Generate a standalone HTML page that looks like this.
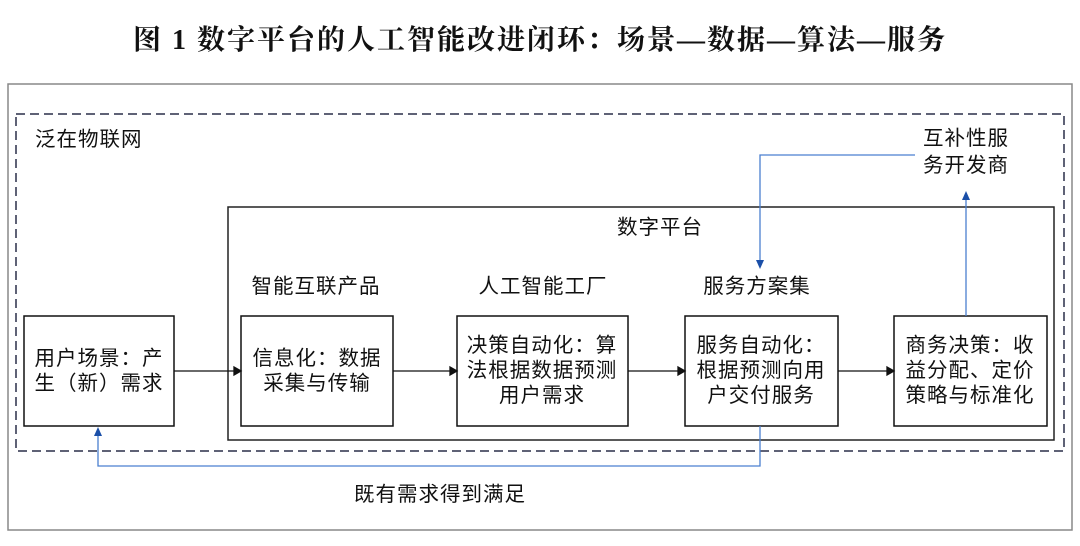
<!DOCTYPE html>
<html><head><meta charset="utf-8"><style>
body{margin:0;background:#fff;}
svg text{font-family:"Liberation Sans","Noto Sans CJK SC",sans-serif;font-size:20.5px;fill:#111;letter-spacing:1px;}
</style></head><body>
<svg width="1080" height="541" xmlns="http://www.w3.org/2000/svg">
<text x="540" y="49" text-anchor="middle" style="font-family:'Liberation Serif','Noto Serif CJK SC',serif;font-size:28px;font-weight:bold;letter-spacing:2px">图 1  数字平台的人工智能改进闭环：场景—数据—算法—服务</text>
<rect x="8" y="84" width="1064" height="446" fill="none" stroke="#888" stroke-width="1.5"/>
<rect x="16" y="114" width="1048" height="337" fill="none" stroke="#2a2f48" stroke-width="1.5" stroke-dasharray="9,5"/>
<rect x="228" y="207" width="826" height="233" fill="none" stroke="#222" stroke-width="1.5"/>
<text x="35" y="146">泛在物联网</text>
<text x="660" y="234" text-anchor="middle">数字平台</text>
<text x="316" y="293" text-anchor="middle">智能互联产品</text>
<text x="543" y="293" text-anchor="middle">人工智能工厂</text>
<text x="757" y="293" text-anchor="middle">服务方案集</text>
<text x="966" y="145" text-anchor="middle">互补性服</text>
<text x="966" y="172" text-anchor="middle">务开发商</text>
<g fill="#fff" stroke="#111" stroke-width="1.5">
<rect x="24" y="316" width="150" height="110"/>
<rect x="241" y="316" width="152" height="110"/>
<rect x="457" y="316" width="171" height="110"/>
<rect x="685" y="316" width="153" height="110"/>
<rect x="894" y="316" width="153" height="110"/>
</g>
<text x="99" y="365" text-anchor="middle">用户场景：产</text>
<text x="99" y="390" text-anchor="middle">生（新）需求</text>
<text x="317" y="365" text-anchor="middle">信息化：数据</text>
<text x="317" y="390" text-anchor="middle">采集与传输</text>
<text x="542" y="352" text-anchor="middle">决策自动化：算</text>
<text x="542" y="377" text-anchor="middle">法根据数据预测</text>
<text x="542" y="402" text-anchor="middle">用户需求</text>
<text x="761" y="352" text-anchor="middle">服务自动化：</text>
<text x="761" y="377" text-anchor="middle">根据预测向用</text>
<text x="761" y="402" text-anchor="middle">户交付服务</text>
<text x="970" y="352" text-anchor="middle">商务决策：收</text>
<text x="970" y="377" text-anchor="middle">益分配、定价</text>
<text x="970" y="402" text-anchor="middle">策略与标准化</text>
<g stroke="#111" stroke-width="1.3" fill="#111">
<line x1="174" y1="371" x2="236" y2="371"/><polygon points="241,371 234,367 234,375"/>
<line x1="393" y1="371" x2="452" y2="371"/><polygon points="457,371 450,367 450,375"/>
<line x1="628" y1="371" x2="680" y2="371"/><polygon points="685,371 678,367 678,375"/>
<line x1="838" y1="371" x2="889" y2="371"/><polygon points="894,371 887,367 887,375"/>
</g>
<g stroke="#4a7fd0" stroke-width="1.3" fill="none">
<polyline points="760,426 760,466 98,466 98,434"/>
<line x1="966" y1="316" x2="966" y2="198"/>
<polyline points="915,155 760,155 760,262"/>
</g>
<g fill="#1a4fa8">
<polygon points="98,427 94,436 102,436"/>
<polygon points="966,191 962,200 970,200"/>
<polygon points="760,269 756,260 764,260"/>
</g>
<text x="440" y="501" text-anchor="middle">既有需求得到满足</text>
</svg>
</body></html>
